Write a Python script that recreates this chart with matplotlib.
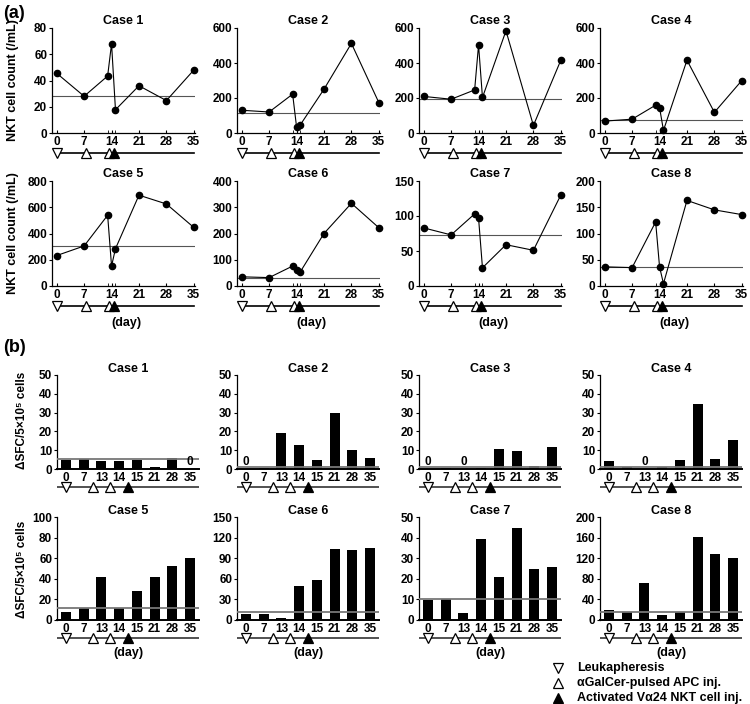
import matplotlib
matplotlib.use('Agg')
import matplotlib.pyplot as plt

plt.rcParams['font.family'] = ['Liberation Sans', 'DejaVu Sans']
plt.rcParams['font.weight'] = 'bold'

W, H = 750, 704

days = [0, 7, 13, 14, 15, 21, 28, 35]
day_ticks = [0, 7, 14, 21, 28, 35]
bar_labels = ['0', '7', '13', '14', '15', '21', '28', '35']
cases = ['Case 1', 'Case 2', 'Case 3', 'Case 4', 'Case 5', 'Case 6', 'Case 7', 'Case 8']

# (a) NKT cell count (/mL)
nkt_1 = [45.5, 28, 43.4, 68, 17.7, 36, 24.7, 48]
nkt_2 = [130, 120, 222, 35, 48, 250, 512, 174]
nkt_3 = [209, 193, 246, 503, 203, 584, 43, 416]
nkt_4 = [68, 79, 159, 145, 15, 416, 118, 300]
nkt_5 = [232, 305, 539, 152, 284, 692, 625, 446]
nkt_6 = [35, 32, 76, 61, 55, 200, 315, 222]
nkt_7 = [83, 73, 103, 97, 26, 59, 51, 130]
nkt_8 = [36.5, 35, 122, 36.5, 4.5, 163, 145, 136]
nkt_base = [28.3, 116, 192, 77, 305, 31, 73, 36]
nkt_ymax = [80, 600, 600, 600, 800, 400, 150, 200]
nkt_step = [20, 200, 200, 200, 200, 100, 50, 50]

# (b) dSFC / 5x10^5 cells
sfc_1 = [4.7, 5.2, 4.5, 4.5, 4.7, 0.9, 5.8, 0]
sfc_2 = [0, 0.3, 19, 12.8, 4.7, 30, 10, 5.8]
sfc_3 = [0, 0.5, 0, 0.5, 10.5, 9.7, 1.8, 11.8]
sfc_4 = [4.4, 0.8, 0, 0.8, 4.9, 34.5, 5.1, 15.6]
sfc_5 = [7.6, 12, 42, 12, 28, 42, 52, 60.5]
sfc_6 = [9.4, 9.4, 3, 50, 58, 103, 102, 105]
sfc_7 = [9.7, 10.4, 3.5, 39.2, 20.7, 44.8, 24.9, 25.5]
sfc_8 = [19.7, 15.8, 72.4, 9.2, 15.8, 161, 129, 120]
sfc_base = [5.2, 1, 0.8, 1, 11.5, 11.4, 10.4, 15]
sfc_ymax = [50, 50, 50, 50, 100, 150, 50, 200]
sfc_step = [10, 10, 10, 10, 20, 30, 10, 40]

# treatment schedule marks
a_leuk, a_apc, a_nkt = [0], [7.6, 13.3], [14.6]
b_leuk, b_apc, b_nkt = [0], [1.5, 2.5], [3.5]

nkt_all = [nkt_1, nkt_2, nkt_3, nkt_4, nkt_5, nkt_6, nkt_7, nkt_8]
sfc_all = [sfc_1, sfc_2, sfc_3, sfc_4, sfc_5, sfc_6, sfc_7, sfc_8]

fig = plt.figure(figsize=(W / 100, H / 100), dpi=100)


def add_px(l, t, w, h):
    return fig.add_axes([l / W, 1 - (t + h) / H, w / W, h / H])


def timeline(l, w, y, xlim, x0, x1, leuk, apc, inj, color):
    tl = add_px(l, y - 6, w, 12)
    tl.set_xlim(*xlim)
    tl.set_ylim(-1, 1)
    tl.axis('off')
    tl.plot([x0, x1], [0, 0], color=color, lw=1.2)
    tl.plot(leuk, [0] * len(leuk), 'v', ms=7, mfc='white', mec='black', mew=0.9, clip_on=False)
    tl.plot(apc, [0] * len(apc), '^', ms=7, mfc='white', mec='black', mew=0.9, clip_on=False)
    tl.plot(inj, [0] * len(inj), '^', ms=7, mfc='black', mec='black', mew=0.9, clip_on=False)


a_lefts = [52, 237, 419, 600]
a_tops = [28, 181]
a_xlim = (-1.2, 35.3)
b_lefts = [57, 237, 419, 600]
b_tops = [375, 517]
b_heights = [94, 103]

# ---- panel (a)
for i in range(8):
    r, c = divmod(i, 4)
    l, t = a_lefts[c], a_tops[r]
    ax = add_px(l, t, 143, 105)
    ax.plot(days, nkt_all[i], '-o', color='black', lw=0.8, ms=4.5, clip_on=False, zorder=3)
    ax.axhline(nkt_base[i], color='#555555', lw=0.8)
    ax.set_xlim(*a_xlim)
    ax.set_ylim(0, nkt_ymax[i])
    ax.set_yticks(range(0, nkt_ymax[i] + 1, nkt_step[i]))
    ax.set_xticks(day_ticks)
    ax.set_xticks([13, 15], minor=True)
    ax.tick_params(axis='x', which='both', direction='in', length=2.5, labelsize=8.5, pad=2)
    ax.tick_params(axis='y', direction='out', length=2.5, labelsize=8.5, pad=1)
    for s in ['top', 'right']:
        ax.spines[s].set_visible(False)
    for s in ['left', 'bottom']:
        ax.spines[s].set_linewidth(0.9)
    ax.set_title(cases[i], fontsize=9, fontweight='bold', pad=3)
    timeline(l, 143, t + 125, a_xlim, 0, 35, a_leuk, a_apc, a_nkt, 'black')
    if r == 1:
        fig.text((l + 74) / W, 1 - 323 / H, '(day)', ha='center', va='center', fontsize=9)

# ---- panel (b)
for i in range(8):
    r, c = divmod(i, 4)
    l, t, h = b_lefts[c], b_tops[r], b_heights[r]
    ax = add_px(l, t, 142, h)
    x = list(range(len(days)))
    ax.bar(x, sfc_all[i], width=0.55, color='black', zorder=2)
    ax.axhline(sfc_base[i], color='#777777', lw=1.3, zorder=3)
    for k, v in enumerate(sfc_all[i]):
        if v == 0:
            ax.text(k, sfc_ymax[i] * 0.015, '0', ha='center', va='bottom', fontsize=8.5)
    ax.set_xlim(-0.5, 7.5)
    ax.set_ylim(0, sfc_ymax[i])
    ax.set_yticks(range(0, sfc_ymax[i] + 1, sfc_step[i]))
    ax.set_xticks(x)
    ax.set_xticklabels(bar_labels)
    ax.tick_params(axis='x', length=0, labelsize=8.5, pad=2)
    ax.tick_params(axis='y', direction='out', length=2.5, labelsize=8.5, pad=1)
    for s in ['top', 'right']:
        ax.spines[s].set_visible(False)
    ax.spines['left'].set_linewidth(0.9)
    ax.spines['bottom'].set_linewidth(1.4)
    ax.set_title(cases[i], fontsize=9, fontweight='bold', pad=1)
    timeline(l, 142, t + h + 18, (-0.5, 7.5), -0.5, 7.5, b_leuk, b_apc, b_nkt, '#333333')
    if r == 1:
        fig.text((l + 71) / W, 1 - 653 / H, '(day)', ha='center', va='center', fontsize=9)

# labels
fig.text(13 / W, 1 - 80 / H, 'NKT cell count (/mL)', rotation=90, ha='center', va='center', fontsize=9)
fig.text(13 / W, 1 - 233 / H, 'NKT cell count (/mL)', rotation=90, ha='center', va='center', fontsize=9)
fig.text(22 / W, 1 - 420 / H, 'ΔSFC/5×10⁵ cells', rotation=90, ha='center', va='center', fontsize=8.5)
fig.text(22 / W, 1 - 569 / H, 'ΔSFC/5×10⁵ cells', rotation=90, ha='center', va='center', fontsize=8.5)
fig.text(3 / W, 1 - 13 / H, '(a)', ha='left', va='center', fontsize=13)
fig.text(3 / W, 1 - 347 / H, '(b)', ha='left', va='center', fontsize=13)

# legend
leg_items = [('v', 'white', 'Leukapheresis'),
             ('^', 'white', 'αGalCer-pulsed APC inj.'),
             ('^', 'black', 'Activated Vα24 NKT cell inj.')]
for j, (m, fc, txt) in enumerate(leg_items):
    yy = 1 - (668 + 15 * j) / H
    fig.lines.append(plt.Line2D([558 / W], [yy], marker=m, ms=7, mfc=fc, mec='black',
                                mew=0.9, transform=fig.transFigure, figure=fig))
    fig.text(577 / W, yy, txt, ha='left', va='center', fontsize=9)

fig.savefig('out.png', dpi=100)
